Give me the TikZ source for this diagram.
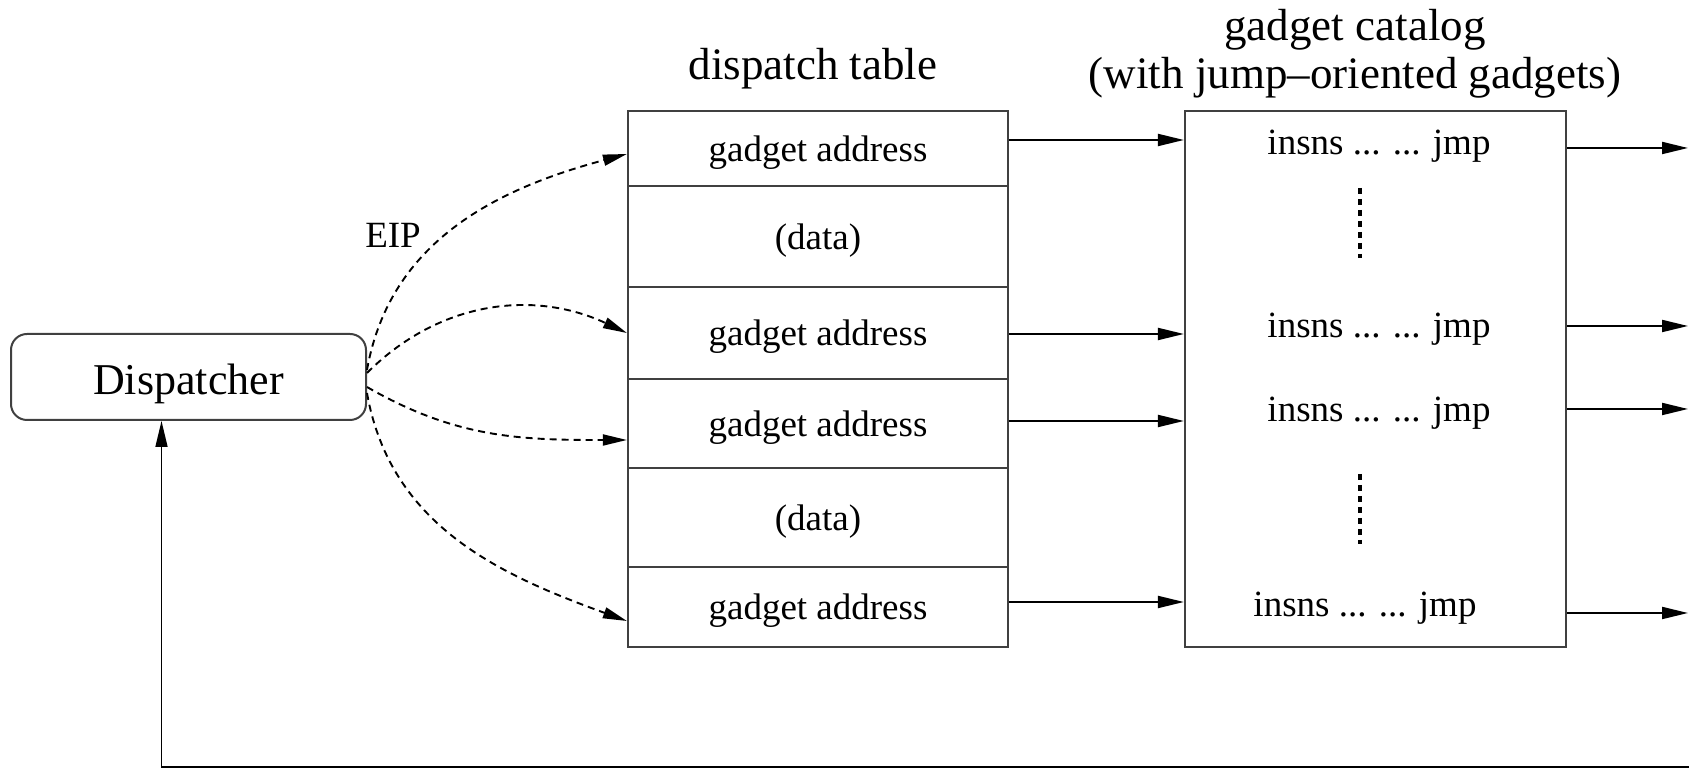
\documentclass[tikz,border=0pt]{standalone}
\usepackage{fontspec}
\setmainfont{Liberation Serif}
\usetikzlibrary{arrows.meta}
\begin{document}
\begin{tikzpicture}[x=1pt,y=1pt,
  box/.style={draw=black!75, line width=2.2pt, rectangle, inner sep=0pt},
  row/.style={box, minimum width=380pt, text depth=0pt, font=\fontsize{37}{40}\selectfont},
  entry/.style={font=\fontsize{37}{40}\selectfont, inner sep=0pt},
  arr/.style={line width=2pt, -{Triangle[length=26pt,width=12pt]}},
  darr/.style={line width=1.9pt, dash pattern=on 7pt off 5pt, -{Triangle[length=24pt,width=11pt]}},
  dotsline/.style={line width=4.5pt, dash pattern=on 6pt off 5pt},
  title/.style={font=\fontsize{45}{48}\selectfont, align=center, inner sep=0pt}]
\useasboundingbox (0,0) rectangle (1689,770);

% titles
\node[title] (tt) at (813,701) {dispatch table};
\node[title] (ct) at (1355,716.5) {gadget catalog\\(with jump\textendash oriented gadgets)};

% dispatcher
\node[draw=black!75, line width=2pt, rounded corners=16pt, minimum width=355pt,
      minimum height=86pt, inner sep=0pt, text height=35pt, text depth=0pt,
      font=\fontsize{44}{48}\selectfont] (disp) at (188.5,393) {Dispatcher};

% dispatch table rows
\node[row, minimum height=75pt]  (r1) at (818,621.5) {gadget address};
\node[row, minimum height=101pt] (r2) at (818,533.5) {(data)};
\node[row, minimum height=92pt]  (r3) at (818,437)   {gadget address};
\node[row, minimum height=89pt]  (r4) at (818,346.5) {gadget address};
\node[row, minimum height=99pt]  (r5) at (818,252.5) {(data)};
\node[row, minimum height=80pt]  (r6) at (818,163)   {gadget address};

% gadget catalog
\node[box, minimum width=381pt, minimum height=536pt] (cat) at (1375.5,391) {};
\node[entry] (e1) at (1379,624) {insns ... ... jmp};
\node[entry] (e2) at (1379,441) {insns ... ... jmp};
\node[entry] (e3) at (1379,357) {insns ... ... jmp};
\node[entry] (e4) at (1365,162) {insns ... ... jmp};
\draw[dotsline] (1360,582) -- (1360,512);
\draw[dotsline] (1360,296) -- (1360,226);

% EIP label
\node[font=\fontsize{37}{40}\selectfont, inner sep=0pt] (eip) at (393,535) {EIP};

% dashed dispatch arrows
\draw[darr] ([yshift=7pt]disp.east)   to[out=80,in=195]  ([yshift=-5.5pt]r1.west);
\draw[darr] ([yshift=4pt]disp.east)   to[out=45,in=155]  (r3.west);
\draw[darr] ([yshift=-10pt]disp.east) to[out=-30,in=180] ([yshift=-16.5pt]r4.west);
\draw[darr] ([yshift=-16pt]disp.east) to[out=-80,in=160] ([yshift=-14pt]r6.west);

% table -> catalog
\draw[arr] ([yshift=8.5pt]r1.east) -- ([yshift=8.5pt]r1.east -| cat.west);
\draw[arr] ([yshift=-1pt]r3.east)  -- ([yshift=-1pt]r3.east -| cat.west);
\draw[arr] ([yshift=2.5pt]r4.east) -- ([yshift=2.5pt]r4.east -| cat.west);
\draw[arr] ([yshift=5pt]r6.east)   -- ([yshift=5pt]r6.east -| cat.west);

% catalog -> out
\coordinate (o1) at (1688,622);
\coordinate (o2) at (1688,444);
\coordinate (o3) at (1688,361);
\coordinate (o4) at (1688,157);
\draw[arr] (cat.east |- o1) -- (o1);
\draw[arr] (cat.east |- o2) -- (o2);
\draw[arr] (cat.east |- o3) -- (o3);
\draw[arr] (cat.east |- o4) -- (o4);

% feedback
\coordinate (fb) at (1689,3);
\coordinate (fbx) at ([xshift=-27pt]disp.south);
\draw[arr, line width=1.6pt] (fb) -- (fb -| fbx) -- (fbx);
\end{tikzpicture}
\end{document}
